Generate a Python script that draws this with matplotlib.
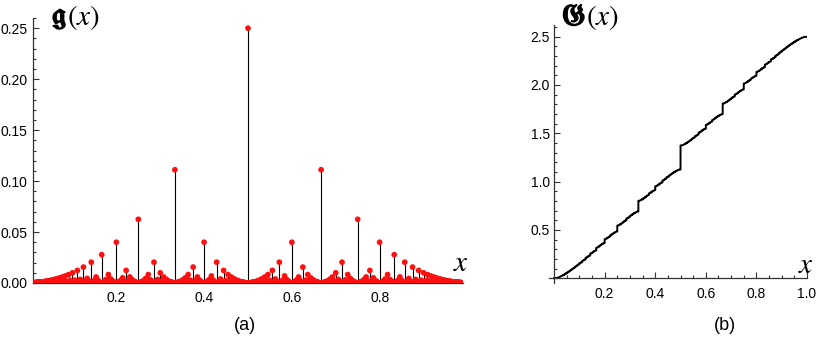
from math import gcd

import matplotlib
matplotlib.use('Agg')
import matplotlib.pyplot as plt
import matplotlib.patheffects as pe
from matplotlib.ticker import MultipleLocator
import numpy as np

# the plotted set: reduced fractions p/q in (0, 1), each carrying a weight 1/q^2
max_denominator = 100
g_xlim = (0.01, 0.99)
g_ylim = (0, 0.26)
G_xlim = (-0.02, 1.0)
G_ylim = (-0.05, 2.62)
x_ticks = [0.2, 0.4, 0.6, 0.8]
G_x_ticks = [0.2, 0.4, 0.6, 0.8, 1.0]
g_y_ticks = [0.0, 0.05, 0.10, 0.15, 0.20, 0.25]
G_y_ticks = [0.5, 1.0, 1.5, 2.0, 2.5]

plt.rcParams['font.family'] = ['Liberation Sans', 'DejaVu Sans']
plt.rcParams['mathtext.fontset'] = 'stix'

numerators = []
denominators = []
for q in range(2, max_denominator + 1):
	for p in range(1, q):
		if gcd(p, q) == 1:
			numerators.append(p)
			denominators.append(q)
denominators = np.array(denominators, dtype=float)
x_points = np.array(numerators) / denominators
heights = 1.0 / denominators ** 2

order = np.argsort(x_points)
x_sorted = x_points[order]
G_values = np.cumsum(heights[order])
G_x = np.concatenate([[0.0], x_sorted, [1.0]])
G_y = np.concatenate([[0.0], G_values, [G_values[-1]]])

axis_color = '#333333'
bold = [pe.withStroke(linewidth=1.0, foreground='black')]


def style_axes(ax):
	for side in ['top', 'right']:
		ax.spines[side].set_visible(False)
	for side in ['left', 'bottom']:
		ax.spines[side].set_color(axis_color)
		ax.spines[side].set_linewidth(0.9)
	ax.tick_params(which='both', direction='in', color=axis_color, labelsize=10, width=0.8)
	ax.tick_params(which='major', length=4)
	ax.tick_params(which='minor', length=2.2)


def fraktur_label(x_px, letter):
	# bold blackletter symbol followed by a plain (x)
	y = 1 - 17 / 339
	fig.text(x_px / 818, y, rf'$\mathfrak{{{letter}}}$', fontsize=21, ha='right', va='center', path_effects=bold)
	fig.text(x_px / 818, y, r'$(x)$', fontsize=21, ha='left', va='center')


fig = plt.figure(figsize=(8.18, 3.39), dpi=100)

# (a) g(x)
ax1 = fig.add_axes([33 / 818, 56 / 339, 430 / 818, 265 / 339])
ax1.vlines(x_points, 0, heights, color='black', linewidth=0.8, zorder=2)
ax1.scatter(x_points, heights, s=17, color='#ff1010', edgecolors='none', zorder=3)
ax1.set_xlim(*g_xlim)
ax1.set_ylim(*g_ylim)
ax1.set_xticks(x_ticks)
ax1.set_xticklabels([f'{t:.1f}' for t in x_ticks])
ax1.set_yticks(g_y_ticks)
ax1.set_yticklabels([f'{t:.2f}' for t in g_y_ticks])
ax1.xaxis.set_minor_locator(MultipleLocator(0.05))
ax1.yaxis.set_minor_locator(MultipleLocator(0.01))
style_axes(ax1)
ax1.tick_params(axis='x', pad=6)
ax1.tick_params(axis='y', pad=4)

# (b) G(x)
ax2 = fig.add_axes([549 / 818, 56 / 339, 258 / 818, 258 / 339])
ax2.plot(G_x, G_y, drawstyle='steps-post', color='black', linewidth=1.4)
ax2.set_xlim(*G_xlim)
ax2.set_ylim(*G_ylim)
ax2.spines['left'].set_position(('data', 0))
ax2.spines['bottom'].set_position(('data', 0))
ax2.set_xticks(G_x_ticks)
ax2.set_xticklabels([f'{t:.1f}' for t in G_x_ticks])
ax2.set_yticks(G_y_ticks)
ax2.set_yticklabels([f'{t:.1f}' for t in G_y_ticks])
ax2.xaxis.set_minor_locator(MultipleLocator(0.05))
ax2.yaxis.set_minor_locator(MultipleLocator(0.1))
style_axes(ax2)
ax2.tick_params(axis='x', pad=6)
ax2.tick_params(axis='y', pad=3)

fraktur_label(67, 'g')
fraktur_label(586, 'G')
fig.text(461 / 818, 1 - 263 / 339, r'$x$', fontsize=21, ha='center', va='center')
fig.text(806 / 818, 1 - 265 / 339, r'$x$', fontsize=21, ha='center', va='center')
fig.text(245 / 818, 1 - 326 / 339, '(a)', fontsize=13, ha='center', va='center')
fig.text(725 / 818, 1 - 326 / 339, '(b)', fontsize=13, ha='center', va='center')

fig.savefig('out.png', dpi=100)
